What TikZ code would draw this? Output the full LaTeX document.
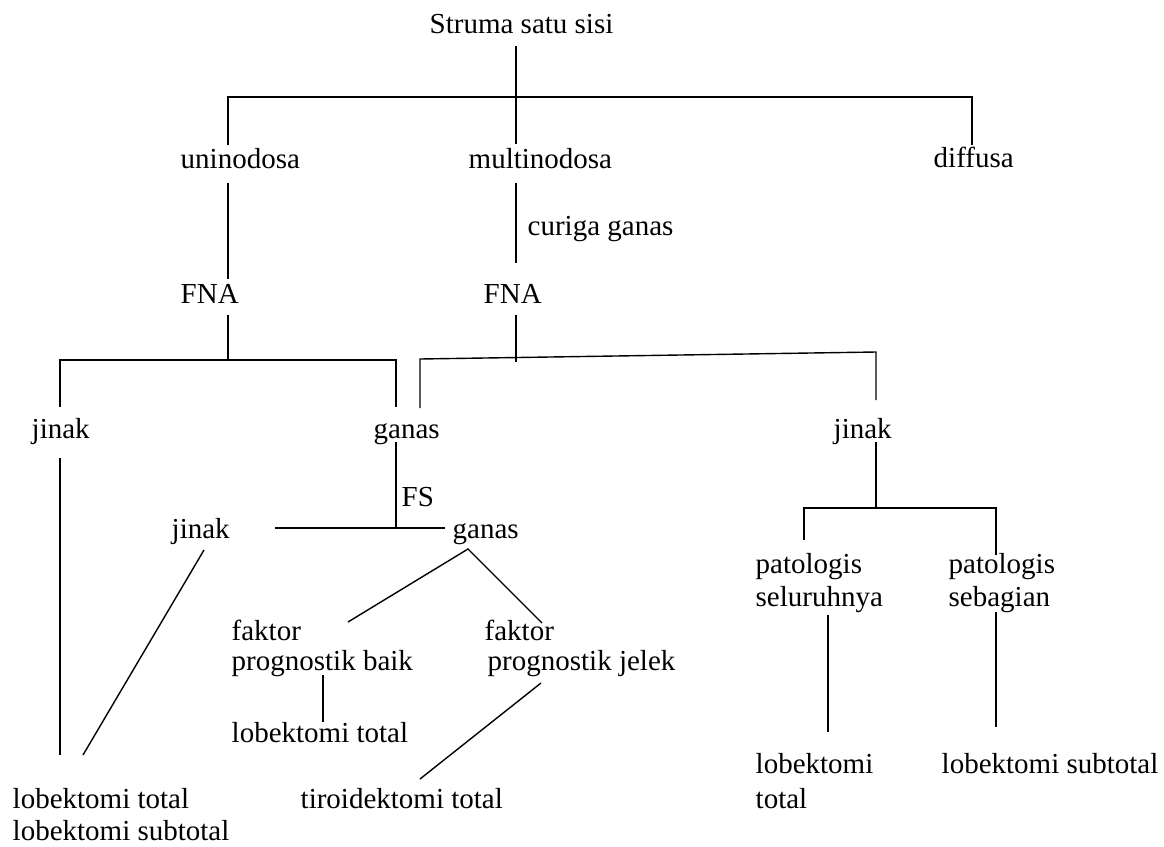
\documentclass[tikz,border=0pt]{standalone}
\usepackage{fontspec}
\setmainfont{Liberation Serif}
\begin{document}
\begin{tikzpicture}[x=0.5pt, y=-0.5pt, line width=0.7pt,
    lbl/.style = {inner sep=0pt, anchor=base west, align=left, font=\fontsize{14.5}{16.5}\selectfont}]
\useasboundingbox (0,0) rectangle (1164,847);
% texts
\node[lbl] (root) at (429,33) {Struma satu sisi};
\node[lbl] (uni) at (180,168) {uninodosa};
\node[lbl] (multi) at (468,168) {multinodosa};
\node[lbl] (diff) at (933,167) {diffusa};
\node[lbl] (curiga) at (527,235) {curiga ganas};
\node[lbl] (fna1) at (180,303) {FNA};
\node[lbl] (fna2) at (483,303) {FNA};
\node[lbl] (jinak1) at (31,438) {jinak};
\node[lbl] (ganas1) at (373,438) {ganas};
\node[lbl] (jinak2) at (833,438) {jinak};
\node[lbl] (fs) at (401,506) {FS};
\node[lbl] (jinak3) at (171,538) {jinak};
\node[lbl] (ganas2) at (452,538) {ganas};
\node[lbl] (baik) at (231,670) {faktor\\[-1.5pt]prognostik baik};
\node[lbl] (jelek) at (484,670) {faktor\\[-1.5pt]\hspace{1.5pt}prognostik jelek};
\node[lbl] (lt2) at (231,742) {lobektomi total};
\node[lbl] (tiro) at (300,808) {tiroidektomi total};
\node[lbl] (lt1) at (12,840) {lobektomi total\\[-0.5pt]lobektomi subtotal};
\node[lbl] (selu) at (755,606) {patologis\\seluruhnya};
\node[lbl] (seba) at (948,606) {patologis\\sebagian};
\node[lbl] (lt3) at (755,808) {lobektomi\\[1pt]total};
\node[lbl] (ls3) at (941,773) {lobektomi subtotal};
% line ends and forks
\coordinate (root-b) at (516,46);
\coordinate (top) at (516,97);
\coordinate (multi-t) at (516,144);
\coordinate (uni-t) at (228,145);
\coordinate (diff-t) at (972,145);
\coordinate (uni-b) at (228,183);
\coordinate (fna1-t) at (228,279);
\coordinate (multi-b) at (516,183);
\coordinate (fna2-t) at (516,263);
\coordinate (fna1-b) at (228,315);
\coordinate (fork1) at (228,360);
\coordinate (jinak1-t) at (60,407);
\coordinate (ganas1-t) at (396,407);
\coordinate (fna2-b) at (516,315);
\coordinate (fork2) at (516,362);
\coordinate (ganas1-t2) at (420,408);
\coordinate (fork2l) at (420,359);
\coordinate (fork2r) at (876,352);
\coordinate (jinak2-t) at (876,400);
\coordinate (ganas1-b) at (396,442);
\coordinate (fsfork) at (396,528);
\coordinate (jinak3-r) at (275,528);
\coordinate (ganas2-l) at (445,528);
\coordinate (jinak1-b) at (60,458);
\coordinate (lt1-t) at (60,755);
\coordinate (jinak3-b) at (204,550);
\coordinate (lt1-t2) at (83,755);
\coordinate (ganas2-b) at (468,549);
\coordinate (baik-t) at (348,622);
\coordinate (jelek-t) at (542,623);
\coordinate (baik-b) at (323,675);
\coordinate (lt2-t) at (323,722);
\coordinate (jelek-b) at (541,683);
\coordinate (tiro-t) at (420,779);
\coordinate (jinak2-b) at (876,442);
\coordinate (fork3) at (876,508);
\coordinate (selu-t) at (804,540);
\coordinate (seba-t) at (996,555);
\coordinate (selu-b) at (828,615);
\coordinate (lt3-t) at (828,732);
\coordinate (seba-b) at (996,612);
\coordinate (ls3-t) at (996,727);
% connectors
\draw (root-b) -- (multi-t);
\draw (uni-t) |- (top) -| (diff-t);
\draw (uni-b) -- (fna1-t);
\draw (multi-b) -- (fna2-t);
\draw (fna1-b) -- (fork1);
\draw (jinak1-t) |- (fork1) -| (ganas1-t);
\draw (fna2-b) -- (fork2);
\draw (ganas1-t2) -- (fork2l) -- (fork2r) -- (jinak2-t);
\draw (ganas1-b) -- (fsfork);
\draw (jinak3-r) -- (ganas2-l);
\draw (jinak1-b) -- (lt1-t);
\draw (jinak3-b) -- (lt1-t2);
\draw (baik-t) -- (ganas2-b) -- (jelek-t);
\draw (baik-b) -- (lt2-t);
\draw (jelek-b) -- (tiro-t);
\draw (jinak2-b) -- (fork3);
\draw (selu-t) |- (fork3) -| (seba-t);
\draw (selu-b) -- (lt3-t);
\draw (seba-b) -- (ls3-t);
\end{tikzpicture}
\end{document}
